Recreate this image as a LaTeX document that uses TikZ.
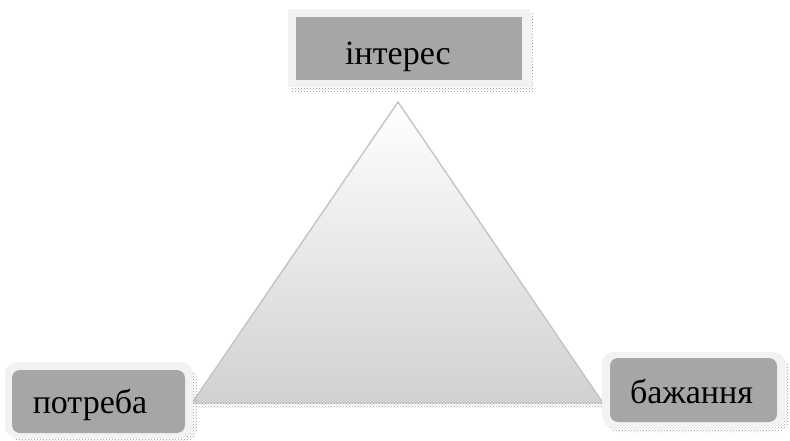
\documentclass[tikz,border=0pt]{standalone}
\usepackage{fontspec}
\setmainfont{Liberation Serif}
\usetikzlibrary{patterns}
\definecolor{boxgray}{HTML}{A6A6A6}
\definecolor{framegray}{HTML}{F2F2F2}
\definecolor{edgegray}{HTML}{C4C4C4}
\tikzset{
  framebox/.style={fill=framegray, draw=none, inner sep=0pt},
  innerbox/.style={fill=boxgray, draw=none, inner sep=0pt},
  lbl/.style={inner sep=0pt, anchor=base, font=\fontsize{34}{40}\selectfont},
  shadowband/.style={pattern=crosshatch dots, pattern color=gray!80},
}
\begin{document}
\begin{tikzpicture}[x=1pt,y=-1pt]
\useasboundingbox (0,0) rectangle (790,441);
% triangle
\coordinate (apex) at (398,102);
\coordinate (bl) at (192,403);
\coordinate (br) at (603,403);
\fill[shadowband] (196,403) rectangle (606,407);
\shade[top color=white, bottom color=black!18] (apex) -- (br) -- (bl) -- cycle;
\draw[edgegray, line width=1.4pt, line join=miter] (apex) -- (br) -- (bl) -- cycle;
% top box
\fill[shadowband] (291,14) rectangle (533,92);
\node[framebox, minimum width=242pt, minimum height=78pt] (topF) at (409,48) {};
\node[innerbox, minimum width=226pt, minimum height=63pt] (topB) at (409,48.5) {};
\node[lbl] (topT) at (398,65) {інтерес};
% left box
\fill[shadowband, rounded corners=12pt] (9,368) rectangle (197,441);
\node[framebox, rounded corners=12pt, minimum width=188pt, minimum height=76pt] (leftF) at (99,400) {};
\node[innerbox, rounded corners=8pt, minimum width=173pt, minimum height=63pt] (leftB) at (98.5,401.5) {};
\node[lbl] (leftT) at (90,413) {потреба};
% right box
\fill[shadowband, rounded corners=12pt] (606,357) rectangle (789,432);
\node[framebox, rounded corners=12pt, minimum width=183pt, minimum height=76pt] (rightF) at (693.5,390) {};
\node[innerbox, rounded corners=8pt, minimum width=167pt, minimum height=64pt] (rightB) at (693.5,390) {};
\node[lbl] (rightT) at (691.5,403) {бажання};
\end{tikzpicture}
\end{document}
